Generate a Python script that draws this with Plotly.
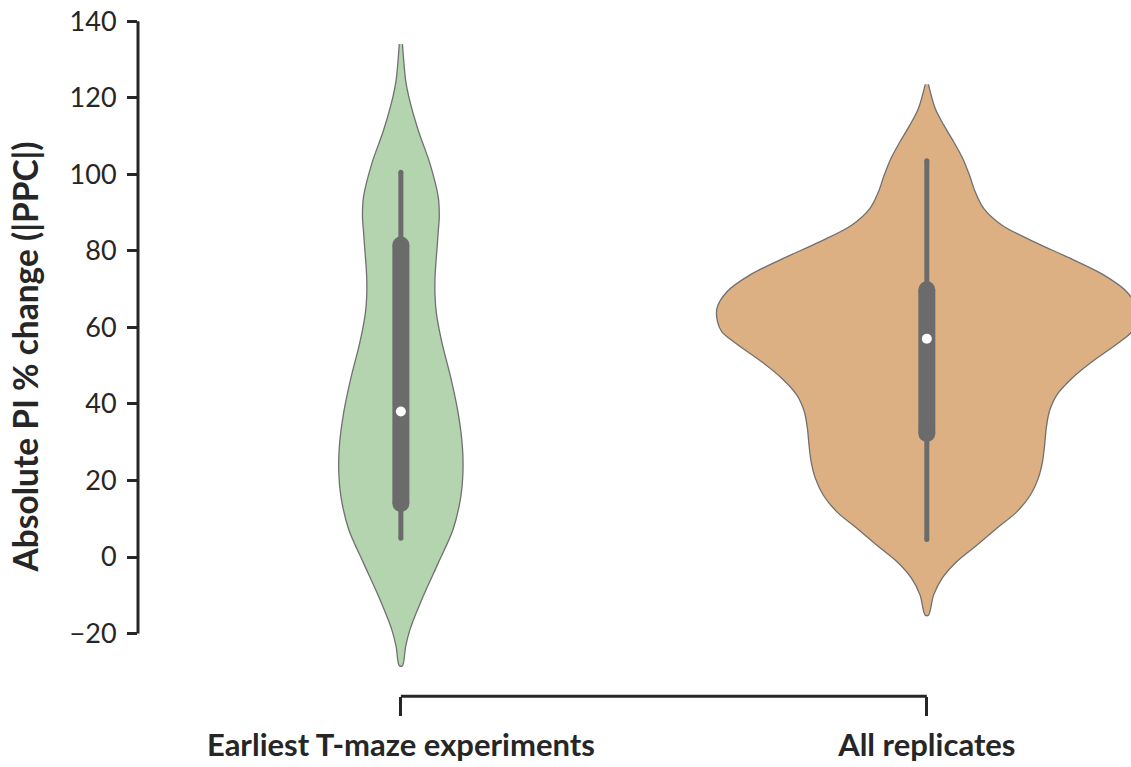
import plotly.graph_objects as go

# Groups along the x axis
groups = ["Earliest T-maze experiments", "All replicates"]
fill_colors = ["#b4d4af", "#dcb082"]

# Density outline per group: value levels (top to bottom) and KDE half-widths (category units)
early_levels = [134.0, 124.6, 120.3, 111.5, 102.9, 94.1, 88.9, 85.0, 81.1, 76.7, 72.4, 68.0, 63.7,
                59.3, 54.9, 46.2, 37.5, 28.8, 21.9, 15.8, 7.1, -1.6, -10.4, -19.1, -23.4, -28.4]
early_halfwidths = [0.003, 0.009, 0.015, 0.033, 0.055, 0.071, 0.073, 0.071, 0.069, 0.0665, 0.0648, 0.065, 0.0675,
                    0.073, 0.080, 0.096, 0.109, 0.117, 0.118, 0.114, 0.099, 0.071, 0.042, 0.017, 0.009, 0.003]

all_levels = [123.5, 117.2, 112.9, 108.5, 104.2, 99.8, 95.4, 91.1, 86.7, 82.4, 78.0, 73.7,
              69.3, 65.0, 61.5, 58.9, 56.3, 51.0, 46.7, 42.3, 38.0, 33.6, 29.3, 24.9, 20.6,
              16.2, 11.8, 7.5, 3.1, -1.2, -5.6, -9.9, -15.2]
all_halfwidths = [0.003, 0.016, 0.032, 0.051, 0.068, 0.081, 0.092, 0.108, 0.143, 0.203, 0.273, 0.336,
                  0.380, 0.399, 0.398, 0.390, 0.368, 0.314, 0.276, 0.247, 0.233, 0.227, 0.224, 0.220,
                  0.212, 0.197, 0.171, 0.133, 0.095, 0.057, 0.029, 0.013, 0.003]

# Box summary per group
whisker_low = [4.9, 4.6]
q1 = [14.0, 32.3]
median = [38.0, 57.0]
q3 = [81.5, 69.8]
whisker_high = [100.5, 103.5]

y_ticks = [-20, 0, 20, 40, 60, 80, 100, 120, 140]

INK = "#262626"
BOX = "#6b6b6b"
OUTLINE = "#707070"
FONT = "Lato"

fig = go.Figure()

outlines = [(early_levels, early_halfwidths), (all_levels, all_halfwidths)]
for i, (levels, halfw) in enumerate(outlines):
    xs = [i - w for w in halfw] + [i + w for w in reversed(halfw)]
    ys = list(levels) + list(reversed(levels))
    fig.add_trace(go.Scatter(
        x=xs, y=ys, mode="lines", fill="toself", fillcolor=fill_colors[i],
        line=dict(color=OUTLINE, width=1.3, shape="spline", smoothing=0.9),
        hoverinfo="skip", name=groups[i],
    ))

for i in range(len(groups)):
    # whisker
    fig.add_trace(go.Scatter(
        x=[i, i], y=[whisker_low[i], whisker_high[i]], mode="lines+markers",
        line=dict(color=BOX, width=5), marker=dict(color=BOX, size=5, line=dict(width=0)),
        hoverinfo="skip",
    ))
    # interquartile box with rounded ends
    fig.add_trace(go.Scatter(
        x=[i, i], y=[q1[i], q3[i]], mode="lines+markers",
        line=dict(color=BOX, width=17), marker=dict(color=BOX, size=17, line=dict(width=0)),
        hoverinfo="skip",
    ))
    # median
    fig.add_trace(go.Scatter(
        x=[i], y=[median[i]], mode="markers",
        marker=dict(color="white", size=10, line=dict(width=0)),
        hoverinfo="skip",
    ))

W, H = 1131, 767
ML, MB = 137.5, 54
plot_h = H - MB
x_axis_pos = (plot_h - 696.3) / plot_h

# vertical scale: value 0 sits 557 px from the top, 3.8275 px per unit
PX_PER_UNIT = 3.8275
ZERO_PX = 557.0
y_range = [(ZERO_PX - plot_h) / PX_PER_UNIT, ZERO_PX / PX_PER_UNIT]

fig.update_layout(
    width=W, height=H,
    margin=dict(l=ML, r=0, t=0, b=MB, pad=0),
    paper_bgcolor="white", plot_bgcolor="white",
    showlegend=False,
    font=dict(family=FONT, color=INK),
    xaxis=dict(
        range=[-0.4998, 1.3882], tickmode="array", tickvals=[0, 1], ticktext=groups,
        showgrid=False, zeroline=False, showline=False,
        ticks="outside", ticklen=19, tickwidth=3, tickcolor=INK,
        tickfont=dict(family=FONT, size=31, color=INK, weight="bold"),
        ticklabelstandoff=2,
        anchor="free", position=x_axis_pos,
    ),
    yaxis=dict(
        range=y_range, tickmode="array", tickvals=y_ticks,
        showgrid=False, zeroline=False, showline=False,
        ticks="outside", ticklen=10, tickwidth=2.5, tickcolor=INK,
        tickfont=dict(family=FONT, size=27, color=INK),
        ticklabelstandoff=5,
        title=dict(text="Absolute PI % change (|PPC|)",
                   font=dict(family=FONT, size=33.5, color=INK, weight="bold"),
                   standoff=20),
        automargin=False,
    ),
    shapes=[
        # trimmed y spine
        dict(type="line", xref="paper", yref="y", x0=0, x1=0, y0=min(y_ticks), y1=max(y_ticks),
             line=dict(color=INK, width=3), layer="above"),
        # trimmed x spine between the outer categories
        dict(type="line", xref="x", yref="paper", x0=0, x1=len(groups) - 1,
             y0=x_axis_pos, y1=x_axis_pos, line=dict(color=INK, width=3), layer="above"),
    ],
)

fig.write_html("out.html")
